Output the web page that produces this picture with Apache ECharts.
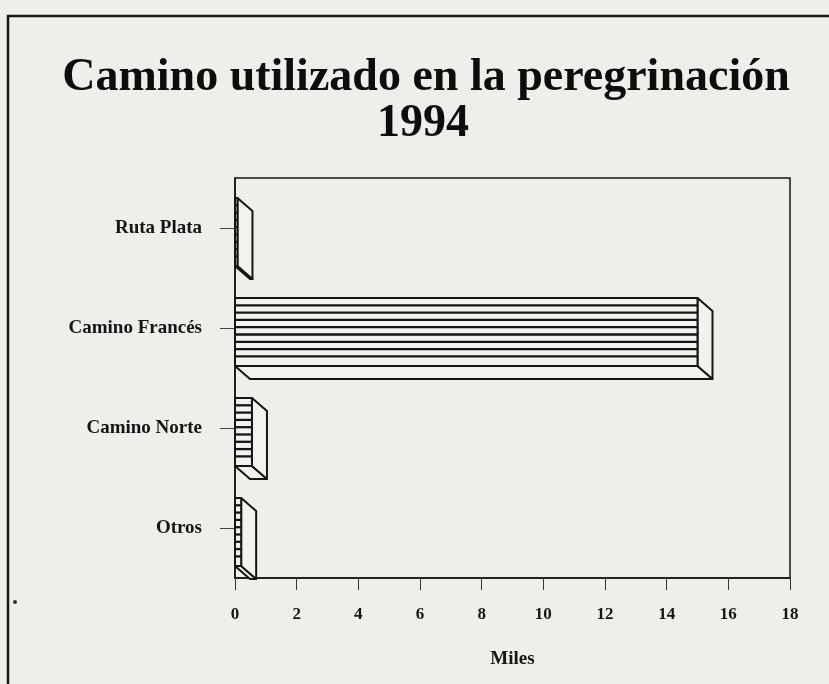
<!DOCTYPE html>
<html>
<head>
<meta charset="utf-8">
<style>
  html, body { margin: 0; padding: 0; background: #efeeeb; }
  #main { width: 829px; height: 684px; }
</style>
<script src="https://cdn.jsdelivr.net/npm/echarts@6/dist/echarts.min.js"></script>
</head>
<body>
<div id="main"></div>
<script>
// datos (miles de peregrinos)
const categories = ['Ruta Plata', 'Camino Francés', 'Camino Norte', 'Otros'];
const values = [0.08, 15, 0.55, 0.2];
const xMin = 0, xMax = 18, xStep = 2;

const serif = 'Liberation Serif';
const ink = '#151515';
const paper = '#f3f2ef';

// barra con efecto 3D (cara frontal rayada, lateral y base)
function renderBar(params, api) {
  const cat = api.value(1);
  const start = api.coord([0, cat]);
  const end = api.coord([api.value(0), cat]);
  const band = api.size([0, 1])[1];
  const top = start[1] - band / 2 + band * 0.2;
  const h = band * 0.68;
  const bot = top + h;
  const x0 = start[0], x1 = end[0];
  const dx = 15, dy = 13;
  const face = { fill: paper, stroke: ink, lineWidth: 2, lineJoin: 'round' };
  const kids = [
    { type: 'polygon', shape: { points: [[x0, bot], [x1, bot], [x1 + dx, bot + dy], [x0 + dx, bot + dy]] }, style: face },
    { type: 'polygon', shape: { points: [[x1, top], [x1 + dx, top + dy], [x1 + dx, bot + dy], [x1, bot]] }, style: face },
    { type: 'rect', shape: { x: x0, y: top, width: x1 - x0, height: h }, style: face }
  ];
  for (let y = top + 7.3; y < bot - 3; y += 7.3) {
    kids.push({ type: 'line', shape: { x1: x0, y1: y, x2: x1, y2: y }, style: { stroke: ink, lineWidth: 2.3 } });
  }
  return { type: 'group', children: kids };
}

const chart = echarts.init(document.getElementById('main'));
chart.setOption({
  backgroundColor: '#efeeeb',
  animation: false,
  grid: {
    left: 235, right: 39, top: 178, bottom: 106,
    show: true, borderColor: ink, borderWidth: 1.5, backgroundColor: 'transparent'
  },
  xAxis: {
    type: 'value',
    min: xMin, max: xMax, interval: xStep,
    splitLine: { show: false },
    axisLine: { show: true, lineStyle: { color: ink, width: 1.5 } },
    axisTick: { show: true, length: 12, lineStyle: { color: '#333', width: 1 } },
    axisLabel: { margin: 28, color: ink, fontFamily: serif, fontWeight: 'bold', fontSize: 17 },
    name: 'Miles',
    nameLocation: 'middle',
    nameGap: 72,
    nameTextStyle: { color: ink, fontFamily: serif, fontWeight: 'bold', fontSize: 19 }
  },
  yAxis: {
    type: 'category',
    data: categories,
    inverse: true,
    axisLine: { show: true, lineStyle: { color: ink, width: 1.5 } },
    axisTick: { show: true, alignWithLabel: true, length: 15, lineStyle: { color: '#444', width: 1 } },
    axisLabel: { margin: 33, color: ink, fontFamily: serif, fontWeight: 'bold', fontSize: 19 }
  },
  series: [{
    type: 'custom',
    renderItem: renderBar,
    encode: { x: 0, y: 1 },
    data: categories.map((c, i) => [values[i], i])
  }],
  graphic: [
    { type: 'rect', shape: { x: 8, y: 16, width: 900, height: 800 }, style: { fill: 'none', stroke: ink, lineWidth: 2.5 } },
    { type: 'text', x: 426, y: 78, style: { text: 'Camino utilizado en la peregrinación', fill: '#0d0d0d', font: 'bold 46px "Liberation Serif"', align: 'center', verticalAlign: 'middle' } },
    { type: 'text', x: 423, y: 124, style: { text: '1994', fill: '#0d0d0d', font: 'bold 46px "Liberation Serif"', align: 'center', verticalAlign: 'middle' } },
    { type: 'circle', shape: { cx: 15, cy: 602, r: 2 }, style: { fill: '#333' } }
  ]
});
</script>
</body>
</html>
